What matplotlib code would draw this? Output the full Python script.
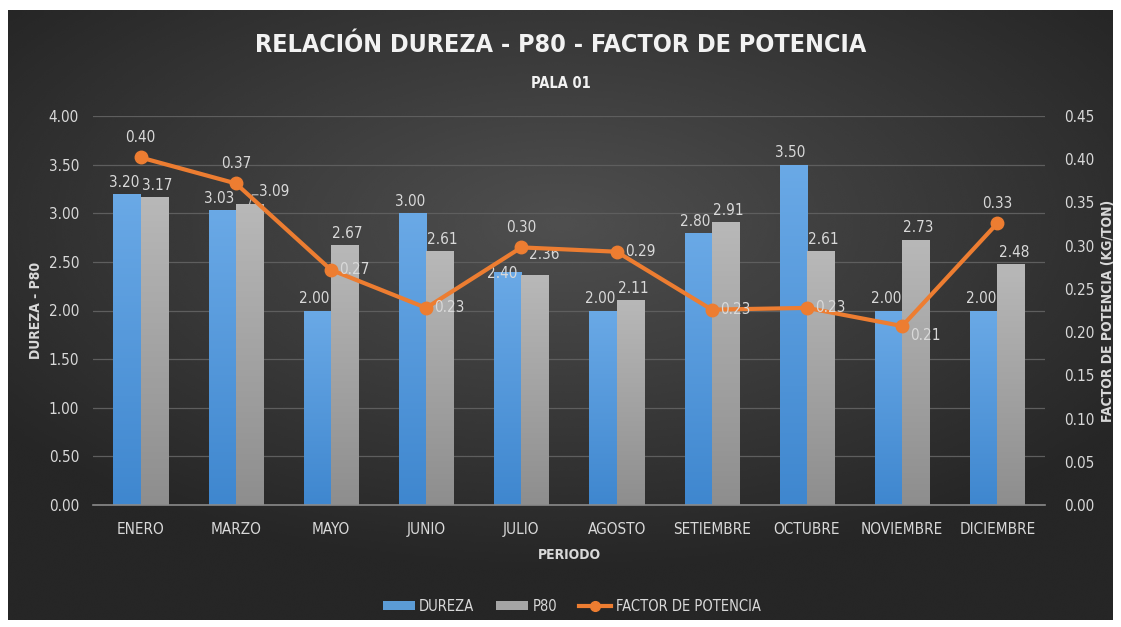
import matplotlib
matplotlib.use("Agg")
import matplotlib.pyplot as plt
import numpy as np
from matplotlib.lines import Line2D
from matplotlib.patches import Patch

# data
meses = ['ENERO', 'MARZO', 'MAYO', 'JUNIO', 'JULIO', 'AGOSTO', 'SETIEMBRE',
         'OCTUBRE', 'NOVIEMBRE', 'DICIEMBRE']
dureza = [3.20, 3.03, 2.00, 3.00, 2.40, 2.00, 2.80, 3.50, 2.00, 2.00]
p80 = [3.17, 3.09, 2.67, 2.61, 2.36, 2.11, 2.91, 2.61, 2.73, 2.48]
factor = [0.402, 0.372, 0.272, 0.228, 0.298, 0.293, 0.226, 0.228, 0.207, 0.326]

TXT = '#d9d9d9'
plt.rcParams['font.family'] = ['DejaVu Sans']
plt.rcParams['font.stretch'] = 'condensed'

fig = plt.figure(figsize=(11.21, 6.27), dpi=100)
fig.patch.set_facecolor('white')

# fondo con degradado
bg = fig.add_axes([8 / 1121, 7 / 627, 1105 / 1121, 610 / 627])
bg.set_axis_off()
yy, xx = np.mgrid[-1:1:300j, -1:1:500j]
r = np.sqrt((xx * 0.9) ** 2 + ((yy + 0.3) * 1.0) ** 2)
shade = np.clip(0.31 - 0.14 * r, 0.15, 0.31)
bg.imshow(shade, cmap='gray', vmin=0, vmax=1, aspect='auto',
          extent=[0, 1, 0, 1], interpolation='bicubic')
bg.set_xlim(0, 1)
bg.set_ylim(0, 1)

ax = fig.add_axes([93 / 1121, 122 / 627, 952 / 1121, 389 / 627])
ax.patch.set_alpha(0)
ax2 = ax.twinx()

x = np.arange(len(meses))
w = 0.285
b1 = ax.bar(x - w / 2, dureza, w, color='#5b9bd5', zorder=2)
b2 = ax.bar(x + w / 2, p80, w, color='#a5a5a5', zorder=2)

# degradado vertical en las barras
def grad(bars, top, bottom):
    cm = matplotlib.colors.LinearSegmentedColormap.from_list('g', [bottom, top])
    g = np.linspace(0, 1, 100).reshape(-1, 1)
    for b in bars:
        x0, y0 = b.get_x(), b.get_y()
        im = ax.imshow(g, cmap=cm, aspect='auto', origin='lower',
                       extent=[x0, x0 + b.get_width(), y0, y0 + b.get_height()],
                       zorder=2.5)
        im.set_clip_path(b)

grad(b1, '#6aa9e6', '#3f87cf')
grad(b2, '#b8b8b8', '#8e8e8e')

ax.set_xlim(-0.5, len(meses) - 0.5)
ax.set_ylim(0, 4.0)
ax.set_yticks(np.arange(0, 4.01, 0.5))
ax.set_yticklabels(['%.2f' % v for v in np.arange(0, 4.01, 0.5)])
ax.set_xticks(x)
ax.set_xticklabels(meses)
ax.grid(axis='y', color='#5e5e5e', lw=0.9, zorder=0)
ax.set_axisbelow(True)
for s in ['top', 'right', 'left']:
    ax.spines[s].set_visible(False)
ax.spines['bottom'].set_color('#8a8a8a')
ax.spines['bottom'].set_linewidth(1.2)
ax.tick_params(axis='both', colors=TXT, labelsize=11, length=0)
ax.tick_params(axis='x', pad=12)
ax.tick_params(axis='y', pad=10)

ax2.plot(x, factor, color='#ed7d31', lw=3, marker='o', ms=9, zorder=5)
ax2.set_ylim(0, 0.45)
ax2.set_yticks(np.arange(0, 0.451, 0.05))
ax2.set_yticklabels(['%.2f' % v for v in np.arange(0, 0.451, 0.05)])
for s in ax2.spines.values():
    s.set_visible(False)
ax2.tick_params(axis='y', colors=TXT, labelsize=11, length=0, pad=14)

# etiquetas de barras
off1 = {4: (-4, -7)}
off2 = {1: (18, 4), 4: (7, 10)}
for i, v in enumerate(dureza):
    dx, dy = off1.get(i, (-2, 3))
    ax.annotate('%.2f' % v, (x[i] - w / 2, v), xytext=(dx, dy),
                textcoords='offset points', ha='center', va='bottom',
                color=TXT, fontsize=11, zorder=6)
for i, v in enumerate(p80):
    dx, dy = off2.get(i, (2, 3))
    ax.annotate('%.2f' % v, (x[i] + w / 2, v), xytext=(dx, dy),
                textcoords='offset points', ha='center', va='bottom',
                color=TXT, fontsize=11, zorder=6)
ax.plot([x[1] + w / 2, x[1] + w / 2 + 0.03, x[1] + w / 2 + 0.09],
        [3.09, 3.19, 3.19], color='#bfbfbf', lw=0.8, zorder=6)

# etiquetas de la linea
arriba = [0, 1, 4, 9]
for i, v in enumerate(factor):
    if i in arriba:
        ax2.annotate('%.2f' % v, (x[i], v), xytext=(0, 9),
                     textcoords='offset points', ha='center', va='bottom',
                     color=TXT, fontsize=11, zorder=7)
    else:
        dy = -7 if i == 8 else 0
        ax2.annotate('%.2f' % v, (x[i], v), xytext=(6, dy),
                     textcoords='offset points', ha='left', va='center',
                     color=TXT, fontsize=11, zorder=7)

ax.set_ylabel('DUREZA - P80', color=TXT, fontsize=10, fontweight='bold',
              labelpad=4)
ax2.set_ylabel('FACTOR DE POTENCIA (KG/TON)', color=TXT, fontsize=10,
               fontweight='bold', labelpad=4)
ax.set_xlabel('PERIODO', color=TXT, fontsize=10, fontweight='bold',
              labelpad=8)

fig.text(0.5, 0.928, 'RELACIÓN DUREZA - P80 - FACTOR DE POTENCIA', ha='center',
         va='center', color='#f2f2f2', fontsize=18, fontweight='bold')
fig.text(0.5, 0.867, 'PALA 01', ha='center', va='center', color='#f2f2f2',
         fontsize=10.5, fontweight='bold')

handles = [Patch(facecolor='#5b9bd5'), Patch(facecolor='#a5a5a5'),
           Line2D([], [], color='#ed7d31', lw=3, marker='o', ms=7)]
leg = fig.legend(handles, ['DUREZA', 'P80', 'FACTOR DE POTENCIA'],
                 loc='center', bbox_to_anchor=(0.51, 0.033), ncol=3,
                 frameon=False, fontsize=10.5, handlelength=2.2,
                 handleheight=0.5, columnspacing=1.5, handletextpad=0.3)
for t in leg.get_texts():
    t.set_color(TXT)

fig.savefig('out.png', dpi=100, facecolor=fig.get_facecolor())
